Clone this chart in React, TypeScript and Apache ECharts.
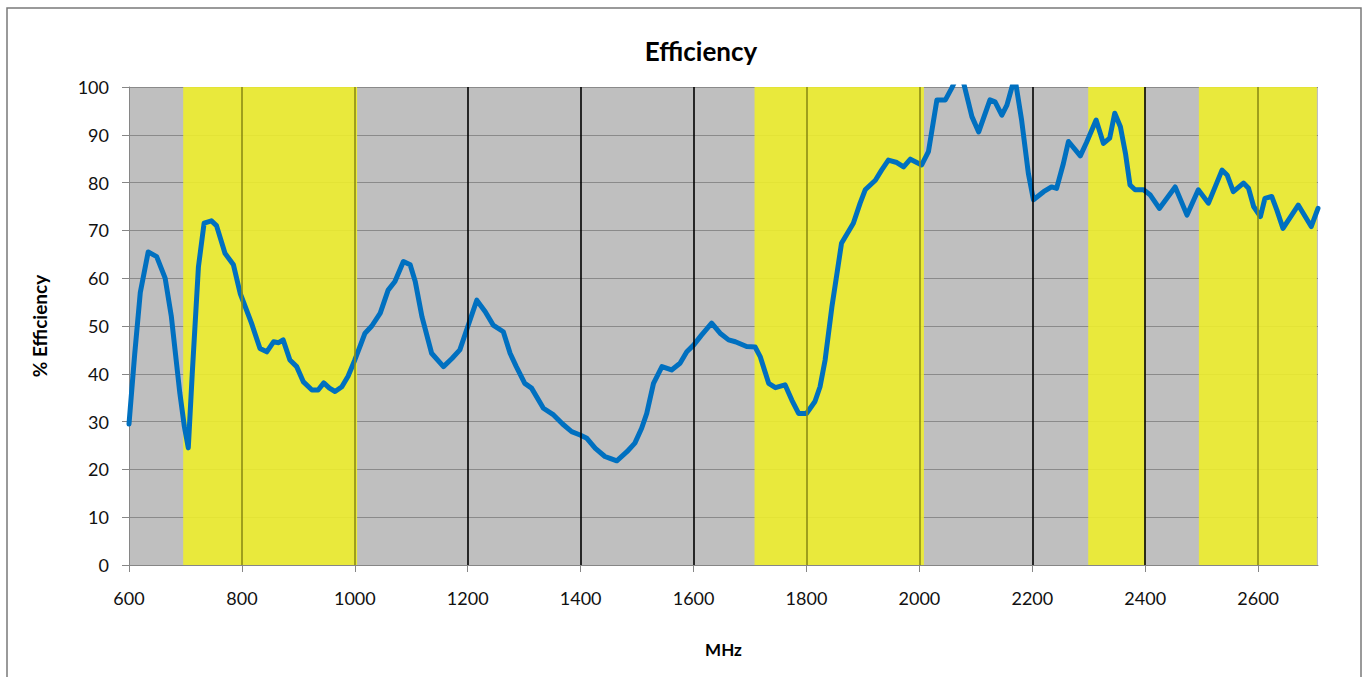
import React, { useEffect, useRef } from "react";
import * as echarts from "echarts";

const FREQ = [
  600, 610, 620, 634, 649, 664, 675, 690, 698, 705, 712, 723, 733, 746, 755, 770, 785, 797, 817, 832,
  844, 856, 865, 873, 885, 897, 909, 924, 935, 945, 955, 965, 977, 988, 1000, 1010, 1018, 1030, 1045, 1059,
  1071, 1086, 1098, 1107, 1119, 1136, 1157, 1172, 1186, 1201, 1216, 1231, 1245, 1263, 1275, 1286, 1301, 1313, 1334, 1352,
  1368, 1384, 1399, 1411, 1426, 1443, 1452, 1464, 1482, 1496, 1508, 1517, 1529, 1544, 1561, 1576, 1588, 1600, 1614, 1632,
  1647, 1662, 1674, 1694, 1709, 1718, 1733, 1745, 1762, 1774, 1786, 1800, 1815, 1824, 1833, 1845, 1854, 1862, 1883, 1895,
  1904, 1922, 1933, 1945, 1960, 1972, 1984, 2004, 2016, 2031, 2046, 2057, 2066, 2078, 2093, 2105, 2125, 2134, 2146, 2155,
  2164, 2169, 2181, 2193, 2202, 2220, 2234, 2243, 2255, 2264, 2285, 2296, 2313, 2326, 2337, 2346, 2356, 2365, 2373, 2382,
  2397, 2409, 2425, 2453, 2474, 2494, 2512, 2536, 2545, 2556, 2574, 2583, 2592, 2604, 2612, 2624, 2633, 2644, 2671, 2694,
  2706,
];
const EFFICIENCY = [
  29.5, 44, 57, 65.5, 64.5, 60, 52, 36, 29, 24.5, 40, 62.4, 71.5, 72, 71, 65.2, 62.8, 56.8, 50.6, 45.3,
  44.6, 46.7, 46.5, 47.1, 42.9, 41.5, 38.3, 36.6, 36.6, 38.1, 37, 36.3, 37.3, 39.5, 42.9, 46, 48.5, 50, 52.7, 57.5,
  59.3, 63.5, 62.8, 59.3, 51.9, 44.3, 41.5, 43.2, 45.0, 50.2, 55.4, 53, 50.2, 48.8, 44.3, 41.5, 38.0, 37.0, 32.8, 31.4,
  29.5, 27.9, 27.2, 26.5, 24.4, 22.7, 22.3, 21.8, 23.7, 25.5, 28.6, 31.7, 38.0, 41.5, 40.8, 42.2, 44.6, 46.0, 48.1, 50.6,
  48.5, 47.1, 46.7, 45.7, 45.6, 43.6, 38.0, 37.1, 37.7, 34.5, 31.7, 31.7, 34.2, 37.3, 42.9, 54.0, 61.0, 67.3, 71.5, 75.7,
  78.5, 80.5, 82.6, 84.7, 84.2, 83.3, 84.9, 83.7, 86.5, 97.3, 97.3, 99.7, 102, 101, 93.8, 90.6, 97.3, 96.9, 94.1, 96.2,
  100, 102, 93.1, 81.9, 76.4, 78.1, 79.1, 78.8, 84, 88.6, 85.6, 88.4, 93.1, 88.2, 89.3, 94.5, 91.7, 86.1, 79.5, 78.5,
  78.5, 77.4, 74.6, 79.1, 73.2, 78.5, 75.7, 82.6, 81.6, 78.1, 79.9, 78.8, 75.0, 72.9, 76.7, 77.1, 74.3, 70.4, 75.3, 70.8,
  74.6,
];

const X_TICKS = [600, 800, 1000, 1200, 1400, 1600, 1800, 2000, 2200, 2400, 2600];
const YELLOW_BANDS = [
  [696, 1004],
  [1708, 2008],
  [2299, 2400],
  [2495, 2704],
];
const V_LINES = [800, 1000, 1200, 1400, 1600, 1800, 2000, 2200, 2400, 2600];
const V_LINE_ON_YELLOW = [true, true, false, false, false, true, true, false, false, true];

const FONT = "Lato, 'Open Sans', sans-serif";

export default function App() {
  const ref = useRef<HTMLDivElement>(null);

  useEffect(() => {
    if (!ref.current) return;
    const chart = echarts.init(ref.current, null, { renderer: "svg" });
    const lineData = FREQ.map((f, i) => [f, EFFICIENCY[i]]);

    chart.setOption({
      animation: false,
      backgroundColor: "#ffffff",
      title: {
        text: "Efficiency",
        left: 696,
        top: 33,
        textAlign: "center",
        textStyle: { fontFamily: FONT, fontWeight: "bold", fontSize: 26, color: "#000" },
      },
      grid: {
        left: 129,
        top: 87,
        right: 44,
        bottom: 112,
        show: true,
        backgroundColor: "#bfbfbf",
        borderWidth: 0,
      },
      xAxis: {
        type: "value",
        min: 600,
        max: 2706,
        interval: 200,
        name: "MHz",
        nameLocation: "middle",
        nameGap: 76,
        nameTextStyle: { fontFamily: FONT, fontWeight: "bold", fontSize: 17, color: "#000" },
        axisLine: { show: true, onZero: false, lineStyle: { color: "#868686", width: 1 } },
        axisTick: { show: true, length: 7, lineStyle: { color: "#868686" }, customValues: X_TICKS },
        axisLabel: {
          margin: 24,
          fontFamily: FONT,
          fontSize: 18,
          color: "#111",
          customValues: X_TICKS,
          formatter: (v: number) => String(v),
        },
        splitLine: { show: false },
      },
      yAxis: {
        type: "value",
        min: 0,
        max: 100,
        interval: 10,
        name: "% Efficiency",
        nameLocation: "middle",
        nameGap: 80,
        nameRotate: 90,
        nameTextStyle: { fontFamily: FONT, fontWeight: "bold", fontSize: 19, color: "#000" },
        axisLine: { show: true, lineStyle: { color: "#868686", width: 1 } },
        axisTick: { show: true, length: 7, lineStyle: { color: "#868686" } },
        axisLabel: { margin: 20, fontFamily: FONT, fontSize: 18, color: "#111", formatter: (v: number) => String(v) },
        splitLine: { show: true, lineStyle: { color: "#8a8a8a", width: 1 } },
      },
      graphic: [
        {
          type: "rect",
          shape: { x: 7, y: 8, width: 1354, height: 700 },
          style: { fill: "none", stroke: "#7a7a7a", lineWidth: 1.5 },
          silent: true,
          z: 100,
        },
      ],
      series: [
        {
          type: "line",
          name: "bands",
          data: lineData,
          showSymbol: false,
          silent: true,
          lineStyle: { opacity: 0 },
          z: 1,
          markArea: {
            silent: true,
            itemStyle: { color: "rgba(239,239,42,0.88)" },
            data: YELLOW_BANDS.map(([a, b]) => [{ xAxis: a }, { xAxis: b }]),
          },
        },
        {
          type: "line",
          name: "grid",
          data: lineData,
          showSymbol: false,
          silent: true,
          lineStyle: { opacity: 0 },
          z: 2,
          markLine: {
            silent: true,
            symbol: "none",
            label: { show: false },
            data: V_LINES.map((v, i) => ({
              xAxis: v,
              lineStyle: {
                type: "solid",
                width: 1.6,
                color: V_LINE_ON_YELLOW[i] ? "#8c8c14" : "#000000",
              },
            })),
          },
        },
        {
          type: "line",
          name: "Efficiency",
          data: lineData,
          showSymbol: false,
          smooth: false,
          clip: true,
          lineStyle: { color: "#0070c0", width: 5, join: "round", cap: "round" },
          z: 3,
        },
      ],
    });

    return () => chart.dispose();
  }, []);

  return (
    <div
      ref={ref}
      style={{ position: "absolute", left: 0, top: 0, width: 1362, height: 677 }}
    />
  );
}
